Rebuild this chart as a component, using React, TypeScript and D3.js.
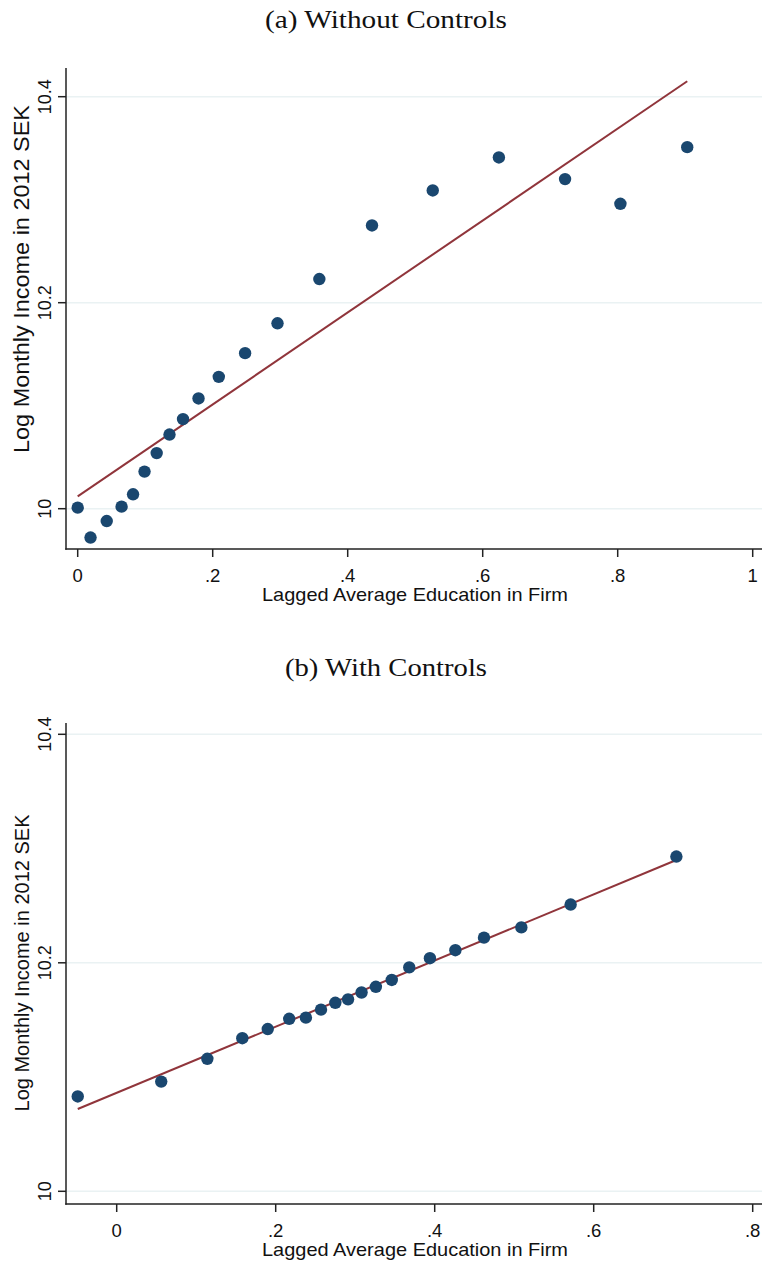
import React, { useEffect, useRef } from 'react';
import * as d3 from 'd3';

// panel (a): without controls
const educA = [0.0, 0.019, 0.043, 0.065, 0.082, 0.099, 0.117, 0.136, 0.156, 0.179, 0.209, 0.248, 0.296, 0.358, 0.436, 0.526, 0.624, 0.722, 0.804, 0.903];
const incomeA = [10.001, 9.972, 9.988, 10.002, 10.014, 10.036, 10.054, 10.072, 10.087, 10.107, 10.128, 10.151, 10.18, 10.223, 10.275, 10.309, 10.341, 10.32, 10.296, 10.351];
const fitXA = [0, 0.903];
const fitYA = [10.012, 10.415];
const xTicksA = [0, 0.2, 0.4, 0.6, 0.8, 1];

// panel (b): with controls
const educB = [-0.049, 0.056, 0.114, 0.158, 0.19, 0.217, 0.238, 0.257, 0.275, 0.291, 0.308, 0.326, 0.346, 0.368, 0.394, 0.426, 0.462, 0.509, 0.571, 0.704];
const incomeB = [10.083, 10.096, 10.116, 10.134, 10.142, 10.151, 10.152, 10.159, 10.165, 10.168, 10.174, 10.179, 10.185, 10.196, 10.204, 10.211, 10.222, 10.231, 10.251, 10.293];
const fitXB = [-0.049, 0.704];
const fitYB = [10.072, 10.29];
const xTicksB = [0, 0.2, 0.4, 0.6, 0.8];

const yTicks = [10, 10.2, 10.4];

const fmtX = (d: number) => (d === 0 ? '0' : d === 1 ? '1' : d3.format('.1f')(d).replace(/^0/, ''));
const fmtY = (d: number) => (d === 10 ? '10' : d3.format('.1f')(d));

const DOT = '#1a476f';
const FIT = '#90353b';
const GRID = '#eaf2f3';
const SANS = '"Liberation Sans", Arial, sans-serif';
const SERIF = '"Liberation Serif", "Times New Roman", serif';

type Panel = {
  title: string;
  titleY: number;
  titleLen: number;
  xs: number[];
  ys: number[];
  fitX: number[];
  fitY: number[];
  xTicks: number[];
  xDomain: [number, number];
  xRange: [number, number];
  yRange: [number, number];
  box: { left: number; right: number; top: number; bottom: number };
  yLabelCenter: number;
  yLabelLen: number;
  yLabelSize: number;
};

const panels: Panel[] = [
  {
    title: '(a) Without Controls',
    titleY: 28,
    titleLen: 242,
    xs: educA,
    ys: incomeA,
    fitX: fitXA,
    fitY: fitYA,
    xTicks: xTicksA,
    xDomain: [0, 1],
    xRange: [77.7, 752.7],
    yRange: [508.7, 96.7],
    box: { left: 66, right: 762, top: 68, bottom: 549 },
    yLabelCenter: 279,
    yLabelLen: 348,
    yLabelSize: 22,
  },
  {
    title: '(b) With Controls',
    titleY: 676,
    titleLen: 202,
    xs: educB,
    ys: incomeB,
    fitX: fitXB,
    fitY: fitYB,
    xTicks: xTicksB,
    xDomain: [0, 0.8],
    xRange: [116.7, 752.7],
    yRange: [1191.3, 734.3],
    box: { left: 66, right: 762, top: 723, bottom: 1204 },
    yLabelCenter: 963,
    yLabelLen: 297,
    yLabelSize: 20,
  },
];

const App = () => {
  const ref = useRef<SVGSVGElement>(null);

  useEffect(() => {
    document.body.style.margin = '0';
    const svg = d3.select(ref.current);
    svg.selectAll('*').remove();

    panels.forEach((p) => {
      const g = svg.append('g');
      const x = d3.scaleLinear().domain(p.xDomain).range(p.xRange);
      const y = d3.scaleLinear().domain([10, 10.4]).range(p.yRange);
      const { left, right, top, bottom } = p.box;

      // title
      g.append('text')
        .attr('x', 386)
        .attr('y', p.titleY)
        .attr('text-anchor', 'middle')
        .attr('font-family', SERIF)
        .attr('font-size', 25)
        .attr('textLength', p.titleLen)
        .attr('lengthAdjust', 'spacingAndGlyphs')
        .attr('fill', '#111')
        .text(p.title);

      // gridlines
      g.selectAll('.grid')
        .data(yTicks)
        .join('line')
        .attr('x1', left)
        .attr('x2', right)
        .attr('y1', (d) => y(d))
        .attr('y2', (d) => y(d))
        .attr('stroke', GRID)
        .attr('stroke-width', 1.5);

      // fit line
      const line = d3.line<number>()
        .x((d) => x(d))
        .y((_, i) => y(p.fitY[i]));
      g.append('path')
        .datum(p.fitX)
        .attr('d', line)
        .attr('fill', 'none')
        .attr('stroke', FIT)
        .attr('stroke-width', 2);

      // points
      g.selectAll('.pt')
        .data(p.xs)
        .join('circle')
        .attr('cx', (d) => x(d))
        .attr('cy', (_, i) => y(p.ys[i]))
        .attr('r', 6.2)
        .attr('fill', DOT);

      // axes lines
      g.append('line')
        .attr('x1', left).attr('x2', left)
        .attr('y1', top).attr('y2', bottom + 0.75)
        .attr('stroke', '#222').attr('stroke-width', 1.5);
      g.append('line')
        .attr('x1', left - 0.75).attr('x2', right)
        .attr('y1', bottom).attr('y2', bottom)
        .attr('stroke', '#222').attr('stroke-width', 1.5);

      // y ticks
      g.selectAll('.yt')
        .data(yTicks)
        .join('line')
        .attr('x1', left - 8)
        .attr('x2', left)
        .attr('y1', (d) => y(d))
        .attr('y2', (d) => y(d))
        .attr('stroke', '#222')
        .attr('stroke-width', 1.5);
      g.selectAll('.ytl')
        .data(yTicks)
        .join('text')
        .attr('transform', (d) => `translate(50.5, ${y(d)}) rotate(-90)`)
        .attr('text-anchor', 'middle')
        .attr('font-family', SANS)
        .attr('font-size', 18)
        .attr('fill', '#111')
        .text((d) => fmtY(d));

      // x ticks
      g.selectAll('.xt')
        .data(p.xTicks)
        .join('line')
        .attr('x1', (d) => x(d))
        .attr('x2', (d) => x(d))
        .attr('y1', bottom)
        .attr('y2', bottom + 8)
        .attr('stroke', '#222')
        .attr('stroke-width', 1.5);
      g.selectAll('.xtl')
        .data(p.xTicks)
        .join('text')
        .attr('x', (d) => x(d))
        .attr('y', bottom + 32.5)
        .attr('text-anchor', 'middle')
        .attr('font-family', SANS)
        .attr('font-size', 18.5)
        .attr('fill', '#111')
        .text((d) => fmtX(d));

      // axis titles
      g.append('text')
        .attr('x', 415)
        .attr('y', bottom + 52)
        .attr('text-anchor', 'middle')
        .attr('font-family', SANS)
        .attr('font-size', 19)
        .attr('textLength', 306)
        .attr('lengthAdjust', 'spacingAndGlyphs')
        .attr('fill', '#111')
        .text('Lagged Average Education in Firm');
      g.append('text')
        .attr('transform', `translate(29, ${p.yLabelCenter}) rotate(-90)`)
        .attr('text-anchor', 'middle')
        .attr('font-family', SANS)
        .attr('font-size', p.yLabelSize)
        .attr('textLength', p.yLabelLen)
        .attr('lengthAdjust', 'spacingAndGlyphs')
        .attr('fill', '#111')
        .text('Log Monthly Income in 2012 SEK');
    });
  }, []);

  return <svg ref={ref} width={762} height={1264} style={{ display: 'block', background: '#fff' }} />;
};

export default App;
